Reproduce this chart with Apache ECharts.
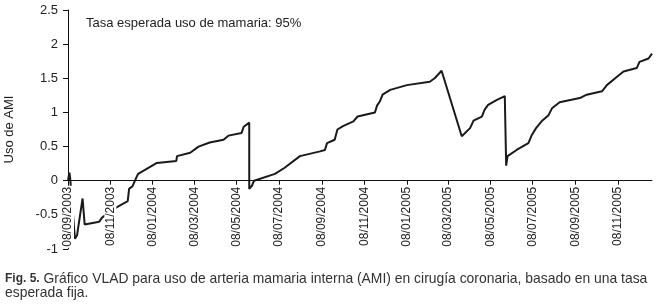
<!DOCTYPE html>
<html>
<head>
<meta charset="utf-8">
<script src="https://cdn.jsdelivr.net/npm/echarts@6/dist/echarts.min.js"></script>
<style>
	html, body { margin: 0; padding: 0; background: #fff; }
	#chart { width: 656px; height: 305px; }
</style>
</head>
<body>
<div id="chart"></div>
<script>
// VLAD trajectory (date, cumulative value)
var dates = [
	"2003-09-08", "2003-09-10", "2003-09-11", "2003-09-18", "2003-09-21", "2003-09-29",
	"2003-10-02", "2003-10-23", "2003-10-27", "2003-11-15", "2003-12-03", "2003-12-05",
	"2003-12-10", "2003-12-16", "2003-12-18", "2004-01-14", "2004-02-11", "2004-02-12",
	"2004-03-02", "2004-03-14", "2004-03-30", "2004-04-19", "2004-04-26", "2004-05-15",
	"2004-05-18", "2004-05-26", "2004-05-26", "2004-05-30", "2004-06-02", "2004-07-02",
	"2004-07-16", "2004-08-07", "2004-09-05", "2004-09-12", "2004-09-15", "2004-09-26",
	"2004-09-30", "2004-10-08", "2004-10-23", "2004-10-29", "2004-11-23", "2004-11-26",
	"2004-11-30", "2004-12-04", "2004-12-15", "2005-01-08", "2005-02-10", "2005-02-17",
	"2005-02-27", "2005-03-28", "2005-04-09", "2005-04-14", "2005-04-26", "2005-04-30",
	"2005-05-05", "2005-05-17", "2005-05-29", "2005-05-30", "2005-05-31", "2005-06-02",
	"2005-06-15", "2005-07-02", "2005-07-07", "2005-07-13", "2005-07-21", "2005-07-31",
	"2005-08-05", "2005-08-16", "2005-09-14", "2005-09-24", "2005-10-16", "2005-10-23",
	"2005-11-04", "2005-11-16", "2005-12-05", "2005-12-09", "2005-12-22", "2005-12-27"
];
var vlad = [
	0, 0.12, 0.05, -0.85, -0.80, -0.26,
	-0.64, -0.60, -0.54, -0.40, -0.30, -0.12,
	-0.08, 0.06, 0.10, 0.26, 0.29, 0.36,
	0.41, 0.50, 0.56, 0.60, 0.66, 0.70,
	0.79, 0.85, -0.12, -0.07, 0.0, 0.10,
	0.19, 0.36, 0.43, 0.45, 0.55, 0.60,
	0.75, 0.80, 0.87, 0.94, 1.00, 1.10,
	1.16, 1.26, 1.33, 1.40, 1.45, 1.50,
	1.61, 0.65, 0.77, 0.88, 0.94, 1.04,
	1.11, 1.18, 1.24, 1.26, 0.22, 0.36,
	0.45, 0.55, 0.67, 0.77, 0.87, 0.96,
	1.06, 1.15, 1.21, 1.26, 1.31, 1.40,
	1.50, 1.60, 1.65, 1.74, 1.79, 1.86
];
// x tick marks every two months
var tickDates = [
	"2003-09-08", "2003-11-08", "2004-01-08", "2004-03-08", "2004-05-08", "2004-07-08",
	"2004-09-08", "2004-11-08", "2005-01-08", "2005-03-08", "2005-05-08", "2005-07-08",
	"2005-09-08", "2005-11-08"
];
var xStart = "2003-09-08";
var xEnd = "2005-12-27";
var yMin = -1, yMax = 2.5;
var noteText = "Tasa esperada uso de mamaria: 95%";
var yName = "Uso de AMI";
var caption = "{b|Fig. 5.} Gráfico VLAD para uso de arteria mamaria interna (AMI) en cirugía coronaria, basado en una tasa\nesperada fija.";

function ts(s) {
	var p = s.split("-");
	return new Date(+p[0], p[1] - 1, +p[2]).getTime();
}
function pad(n) {
	return n < 10 ? "0" + n : "" + n;
}

var points = dates.map(function(d, i) {
	return [ts(d), vlad[i]];
});
var ticks = tickDates.map(ts);
var capFont = "13.9px Liberation Sans, Arial, sans-serif";

var gridTop = 10, gridBottom = 56, H = 305;
// lift the x axis (line, ticks, labels) from the grid bottom up to y = 0
var plotH = H - gridTop - gridBottom;
var zeroLift = plotH * (0 - yMin) / (yMax - yMin);

var chart = echarts.init(document.getElementById("chart"), null, { renderer: "canvas" });
chart.setOption({
	animation: false,
	textStyle: { fontFamily: "Liberation Sans, Arial, sans-serif" },
	grid: { left: 68, right: 4, top: gridTop, bottom: gridBottom, containLabel: false, outerBoundsMode: "none" },
	xAxis: {
		// plain value axis on timestamps so ticks can sit on the 8th of every other month
		type: "value",
		min: ts(xStart),
		max: ts(xEnd),
		offset: -zeroLift,
		z: 5,
		splitLine: { show: false },
		axisLine: { onZero: false, lineStyle: { color: "#111", width: 1 } },
		axisTick: { show: true, length: 4, inside: false, customValues: ticks, lineStyle: { color: "#111" } },
		axisLabel: {
			customValues: ticks,
			rotate: 90,
			margin: 5,
			color: "#222",
			fontSize: 12,
			hideOverlap: false,
			showMinLabel: true,
			// labels sit over the line, as in the printed figure
			backgroundColor: "#fff",
			padding: [0, 1],
			formatter: function(v) {
				var d = new Date(v);
				return pad(d.getDate()) + "/" + pad(d.getMonth() + 1) + "/" + d.getFullYear();
			}
		}
	},
	yAxis: {
		type: "value",
		min: yMin,
		max: yMax,
		interval: 0.5,
		splitLine: { show: false },
		axisLine: { show: true, lineStyle: { color: "#111", width: 1 } },
		axisTick: { show: true, length: 5, lineStyle: { color: "#111" } },
		axisLabel: { color: "#222", fontSize: 13, margin: 10 },
		name: yName,
		nameLocation: "middle",
		nameGap: 52,
		nameTextStyle: { color: "#222", fontSize: 13 }
	},
	series: [{
		type: "line",
		data: points,
		showSymbol: false,
		symbol: "none",
		lineStyle: { color: "#1a1a1a", width: 2 }
	}],
	graphic: [{
		type: "text",
		left: 86,
		top: 17,
		style: { text: noteText, fill: "#222", font: "13px Liberation Sans, Arial, sans-serif" }
	}, {
		type: "text",
		left: 5,
		top: 272,
		style: {
			text: caption,
			fill: "#333",
			font: capFont,
			lineHeight: 14,
			rich: {
				b: { fontWeight: "bold", font: "bold " + capFont, fill: "#333" }
			}
		}
	}]
});
</script>
</body>
</html>
